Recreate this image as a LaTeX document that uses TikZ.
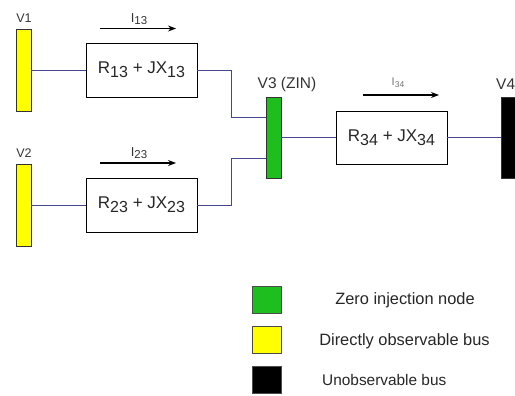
\documentclass[tikz,border=0pt]{standalone}
\usepackage{fontspec}
\setmainfont{Liberation Sans}
\usetikzlibrary{arrows.meta,calc}
\definecolor{wire}{RGB}{70,70,140}
\definecolor{busyellow}{RGB}{255,255,0}
\definecolor{busgreen}{RGB}{30,190,30}
\newcommand{\sbs}[1]{\raisebox{-0.4ex}{\fontsize{16}{16}\selectfont #1}}
\newcommand{\ssb}[1]{\raisebox{-0.4ex}{\fontsize{11.5}{11.5}\selectfont #1}}
\newcommand{\sss}[1]{\raisebox{-0.4ex}{\fontsize{8.5}{8.5}\selectfont #1}}
\begin{document}
\begin{tikzpicture}[x=1pt,y=-1pt,
  bus/.style={draw=black!80, line width=0.8pt, minimum width=15pt, inner sep=0pt},
  imp/.style={draw=black, line width=0.9pt, minimum width=111pt, minimum height=54pt, inner sep=0pt, font=\fontsize{17}{17}\selectfont, text=black!85},
  lbl/.style={inner sep=0pt, font=\fontsize{12.5}{12.5}\selectfont, text=black!80},
  leg/.style={inner sep=0pt, text=black!85},
  wirel/.style={draw=wire, line width=0.8pt},
  curr/.style={draw=black, line width=1.2pt, -{Stealth[length=8pt,width=6pt]}},
  legbox/.style={draw=black!70, line width=0.8pt, minimum width=29pt, minimum height=27pt, inner sep=0pt}]
\useasboundingbox (0,0) rectangle (515,396);
% buses
\node[bus, fill=busyellow, minimum height=82pt] (V1) at (23.5,70) {};
\node[bus, fill=busyellow, minimum height=82pt] (V2) at (23.5,205) {};
\node[bus, fill=busgreen, minimum height=81pt] (V3) at (273.5,137.5) {};
\node[bus, fill=black, minimum height=81pt] (V4) at (509,137.5) {};
% labels
\node[lbl] (lV1) at (24,18) {V1};
\node[lbl] (lV2) at (24,153) {V2};
\node[lbl, font=\fontsize{15.5}{15.5}\selectfont] (lV3) at (287,84) {V3 (ZIN)};
\node[lbl, font=\fontsize{15.5}{15.5}\selectfont, anchor=west] (lV4) at (496,84) {V4};
% impedances
\node[imp] (Z13) at (141.5,70) {R\sbs{13} + JX\sbs{13}};
\node[imp] (Z23) at (141.5,205) {R\sbs{23} + JX\sbs{23}};
\node[imp, minimum height=53pt] (Z34) at (391.5,137.5) {R\sbs{34} + JX\sbs{34}};
% wires
\coordinate (v3a) at (266,117);
\coordinate (v3b) at (266,158);
\draw[wirel] (V1) -- (Z13);
\draw[wirel] (V2) -- (Z23);
\draw[wirel] (Z13.east) -- ++(34,0) |- (v3a);
\draw[wirel] (Z23.east) -- ++(34,0) |- (v3b);
\draw[wirel] (V3) -- (Z34);
\draw[wirel] (Z34) -- (V4);
% currents
\coordinate (a1s) at (100,28.5); \coordinate (a1e) at (176,28.5);
\coordinate (a2s) at (100,163); \coordinate (a2e) at (176,163);
\coordinate (a3s) at (363,95); \coordinate (a3e) at (439,95);
\draw[curr] (a1s) -- (a1e);
\draw[curr] (a2s) -- (a2e);
\draw[curr] (a3s) -- (a3e);
\node[lbl, font=\fontsize{13}{13}\selectfont] (I13) at (139,19) {I\ssb{13}};
\node[lbl, font=\fontsize{13}{13}\selectfont] (I23) at (139,153) {I\ssb{23}};
\node[lbl, text=black!55, font=\fontsize{11}{11}\selectfont] (I34) at (398,83) {I\sss{34}};
% legend
\node[legbox, fill=busgreen] (Lg) at (266.5,299.5) {};
\node[legbox, fill=busyellow] (Ly) at (266.5,339.5) {};
\node[legbox, fill=black] (Lb) at (266.5,380) {};
\node[leg, font=\fontsize{16.4}{16.4}\selectfont] (tg) at (405,300.5) {Zero injection node};
\node[leg, font=\fontsize{16.4}{16.4}\selectfont] (ty) at (404.5,341) {Directly observable bus};
\node[leg, font=\fontsize{15.4}{15.4}\selectfont, anchor=west] (tb) at (322,380) {Unobservable bus};
\end{tikzpicture}
\end{document}
